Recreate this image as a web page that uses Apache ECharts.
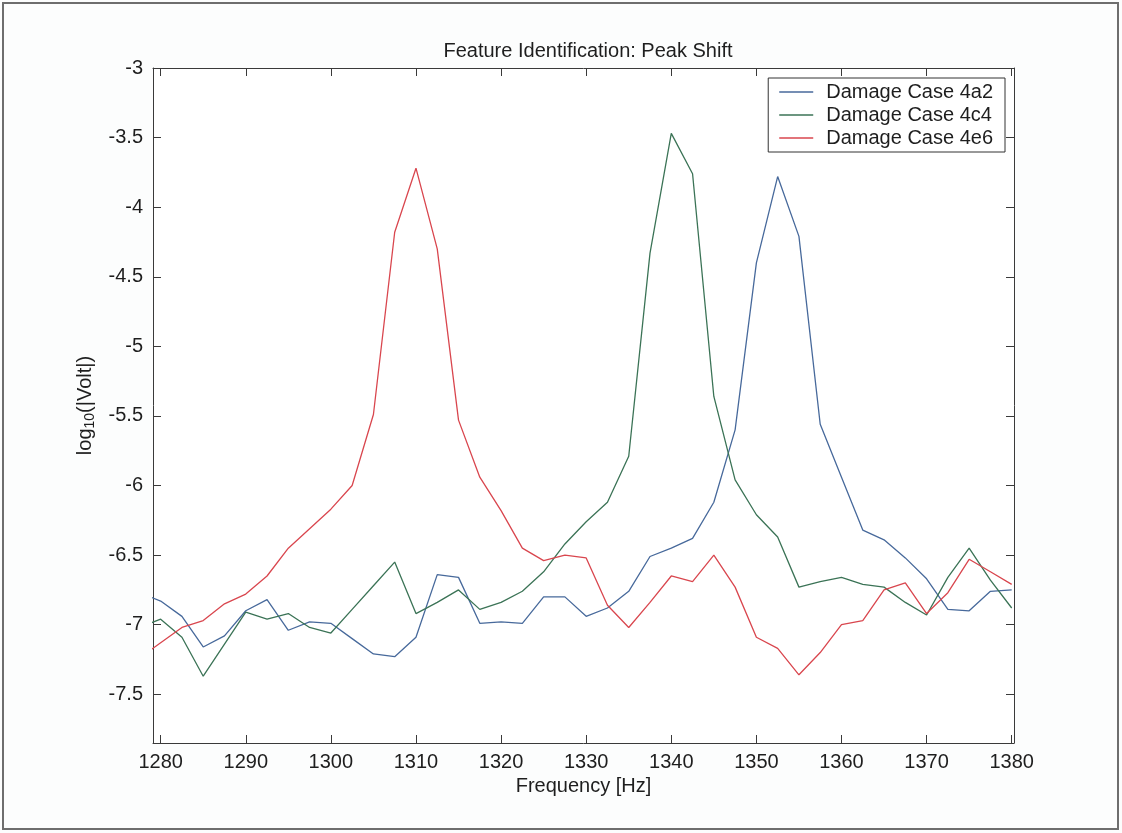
<!DOCTYPE html>
<html>
<head>
<meta charset="utf-8">
<title>Feature Identification: Peak Shift</title>
<script src="https://cdn.jsdelivr.net/npm/echarts@6/dist/echarts.min.js"></script>
<style>
  html, body { margin: 0; padding: 0; background: #fcfdfd; }
  #chart { width: 1122px; height: 833px; }
</style>
</head>
<body>
<div id="chart"></div>
<script>
// Frequency bins [Hz], 2.5 Hz spacing
const freq = [
  1277.5, 1280, 1282.5, 1285, 1287.5, 1290, 1292.5, 1295, 1297.5, 1300,
  1302.5, 1305, 1307.5, 1310, 1312.5, 1315, 1317.5, 1320, 1322.5, 1325,
  1327.5, 1330, 1332.5, 1335, 1337.5, 1340, 1342.5, 1345, 1347.5, 1350,
  1352.5, 1355, 1357.5, 1360, 1362.5, 1365, 1367.5, 1370, 1372.5, 1375,
  1377.5, 1380
];

// log10(|Volt|) per damage case
const case4a2 = [
  -6.77, -6.83, -6.94, -7.16, -7.08, -6.90, -6.82, -7.04, -6.98, -6.99,
  -7.10, -7.21, -7.23, -7.09, -6.64, -6.66, -6.99, -6.98, -6.99, -6.80,
  -6.80, -6.94, -6.88, -6.76, -6.51, -6.45, -6.38, -6.12, -5.60, -4.40,
  -3.78, -4.21, -5.56, -5.94, -6.32, -6.39, -6.52, -6.67, -6.89, -6.90,
  -6.76, -6.75
];
const case4c4 = [
  -7.02, -6.96, -7.09, -7.37, -7.14, -6.91, -6.96, -6.92, -7.02, -7.06,
  -6.89, -6.72, -6.55, -6.92, -6.84, -6.75, -6.89, -6.84, -6.76, -6.62,
  -6.42, -6.26, -6.12, -5.79, -4.33, -3.47, -3.76, -5.36, -5.96, -6.21,
  -6.37, -6.73, -6.69, -6.66, -6.71, -6.73, -6.84, -6.93, -6.66, -6.45,
  -6.68, -6.88
];
const case4e6 = [
  -7.24, -7.13, -7.02, -6.97, -6.85, -6.78, -6.65, -6.45, -6.31, -6.17,
  -6.00, -5.49, -4.18, -3.72, -4.30, -5.53, -5.94, -6.18, -6.45, -6.54,
  -6.50, -6.52, -6.86, -7.02, -6.84, -6.65, -6.69, -6.50, -6.73, -7.09,
  -7.17, -7.36, -7.20, -7.00, -6.97, -6.75, -6.70, -6.92, -6.77, -6.53,
  -6.62, -6.71
];

const seriesNames = ['Damage Case 4a2', 'Damage Case 4c4', 'Damage Case 4e6'];
const seriesValues = [case4a2, case4c4, case4e6];
const seriesColors = ['#47699b', '#3b7356', '#d9464e'];

// Tick positions
const xTicks = [1280, 1290, 1300, 1310, 1320, 1330, 1340, 1350, 1360, 1370, 1380];
const yTicks = [-7.5, -7, -6.5, -6, -5.5, -5, -4.5, -4, -3.5, -3];

const X_MIN = 1279.1, X_MAX = 1380.27;
const Y_MIN = -7.85, Y_MAX = -3;

const FONT = '"Liberation Sans", Arial, Helvetica, sans-serif';
const FS = 20;
const TEXT_COLOR = '#1e1e1e';
const AXIS_COLOR = '#3a3a3a';

function boxAxis(extra) {
  return Object.assign({
    type: 'value',
    splitLine: { show: false },
    axisLine: { show: true, onZero: false, lineStyle: { color: AXIS_COLOR, width: 1 } },
    axisTick: { show: true, inside: true, length: 8, lineStyle: { color: AXIS_COLOR } },
    axisLabel: { show: false }
  }, extra);
}

const chart = echarts.init(document.getElementById('chart'), null, { renderer: 'canvas' });

chart.setOption({
  animation: false,
  backgroundColor: '#fcfdfd',
  textStyle: { fontFamily: FONT },
  title: {
    text: 'Feature Identification: Peak Shift',
    left: 583,
    top: 36,
    textAlign: 'center',
    textStyle: { fontFamily: FONT, fontSize: FS, fontWeight: 'normal', color: TEXT_COLOR }
  },
  grid: { left: 153, right: 108, top: 68, bottom: 90, show: true, backgroundColor: '#ffffff', borderWidth: 0 },
  legend: {
    data: seriesNames,
    orient: 'vertical',
    right: 117,
    top: 78,
    padding: [4, 12, 4, 11],
    icon: 'rect',
    itemWidth: 34,
    itemHeight: 1.6,
    itemGap: 3,
    backgroundColor: '#ffffff',
    borderColor: '#333333',
    borderWidth: 1,
    borderRadius: 0,
    textStyle: { fontFamily: FONT, fontSize: FS, color: TEXT_COLOR, padding: [0, 0, 0, 8] }
  },
  xAxis: [
    boxAxis({
      position: 'bottom',
      min: X_MIN, max: X_MAX,
      name: 'Frequency [Hz]',
      nameLocation: 'middle',
      nameGap: 33,
      nameTextStyle: { fontFamily: FONT, fontSize: FS, color: TEXT_COLOR },
      axisTick: { show: true, inside: true, length: 8, customValues: xTicks, lineStyle: { color: AXIS_COLOR } },
      axisLabel: {
        show: true, customValues: xTicks, margin: 9,
        fontFamily: FONT, fontSize: FS, color: TEXT_COLOR,
        formatter: v => String(v)
      }
    }),
    boxAxis({
      position: 'top',
      min: X_MIN, max: X_MAX,
      axisTick: { show: true, inside: true, length: 8, customValues: xTicks, lineStyle: { color: AXIS_COLOR } }
    })
  ],
  yAxis: [
    boxAxis({
      position: 'left',
      min: Y_MIN, max: Y_MAX,
      name: '{t|log}{s|10}{t|(|Volt|)}',
      nameLocation: 'middle',
      nameGap: 36,
      nameRotate: 90,
      nameTextStyle: {
        fontFamily: FONT,
        color: TEXT_COLOR,
        rich: {
          t: { fontFamily: FONT, fontSize: FS, color: TEXT_COLOR, lineHeight: 24, verticalAlign: 'middle' },
          s: { fontFamily: FONT, fontSize: 14, color: TEXT_COLOR, lineHeight: 24, verticalAlign: 'bottom', padding: [9, 0, 0, 0] }
        }
      },
      axisTick: { show: true, inside: true, length: 8, customValues: yTicks, lineStyle: { color: AXIS_COLOR } },
      axisLabel: {
        show: true, customValues: yTicks, margin: 10,
        fontFamily: FONT, fontSize: FS, color: TEXT_COLOR,
        formatter: v => String(v)
      }
    }),
    boxAxis({
      position: 'right',
      min: Y_MIN, max: Y_MAX,
      axisTick: { show: true, inside: true, length: 8, customValues: yTicks, lineStyle: { color: AXIS_COLOR } }
    })
  ],
  series: seriesNames.map((name, k) => ({
    name: name,
    type: 'line',
    xAxisIndex: 0,
    yAxisIndex: 0,
    data: freq.map((f, i) => [f, seriesValues[k][i]]),
    symbol: 'none',
    clip: true,
    color: seriesColors[k],
    lineStyle: { color: seriesColors[k], width: 1.3 },
    emphasis: { disabled: true }
  })),
  graphic: [
    {
      type: 'rect',
      shape: { x: 3, y: 3, width: 1115, height: 826 },
      style: { fill: null, stroke: '#6e6e6e', lineWidth: 2 },
      silent: true
    }
  ]
});
</script>
</body>
</html>
